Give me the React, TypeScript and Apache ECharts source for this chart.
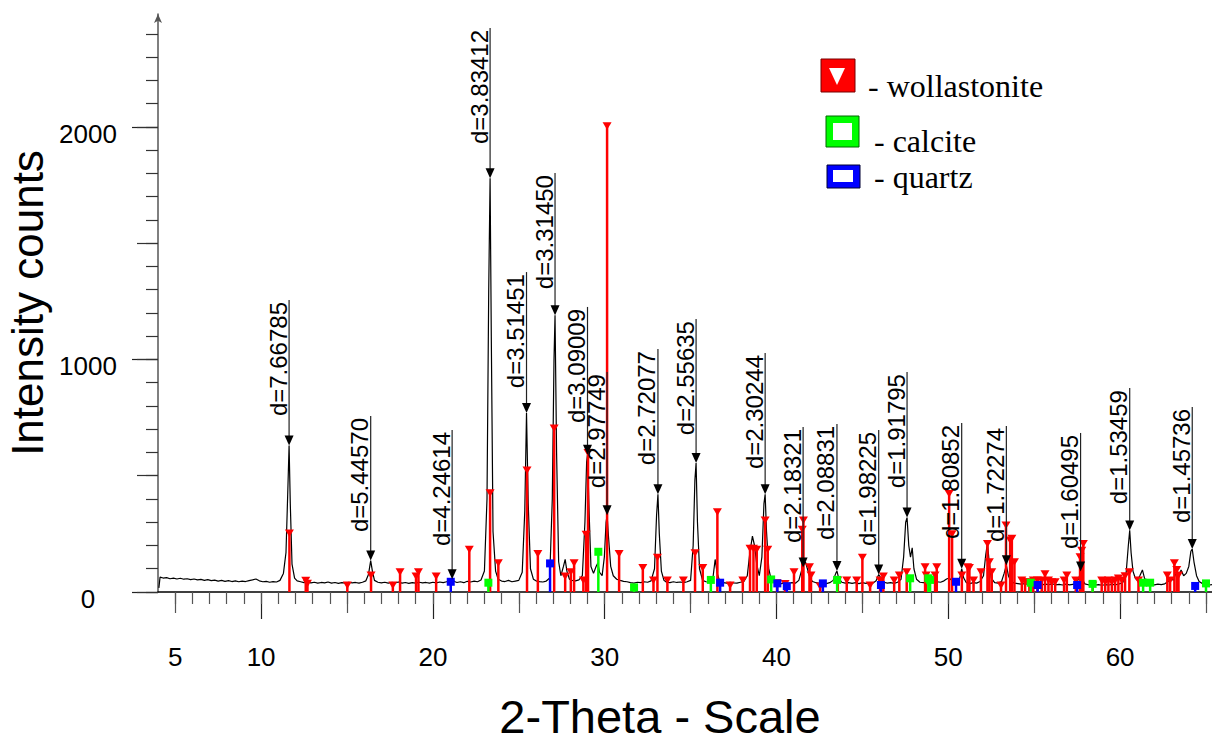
import React, { useEffect, useRef } from "react";
import * as echarts from "echarts";

// 2-Theta vs intensity profile (black trace)
const profile: [number, number][] = [
  [4.05, 18], [4.12, 64], [4.3, 60], [4.5, 62], [4.7, 57], [4.9, 60], [5.1, 56], [5.3, 59], [5.5, 55], [5.7, 57],
  [5.9, 53], [6.1, 56], [6.3, 52], [6.5, 54], [6.7, 50], [6.9, 53], [7.1, 49], [7.3, 51], [7.5, 47], [7.7, 50],
  [7.9, 46], [8.1, 49], [8.3, 45], [8.5, 48], [8.7, 44], [8.9, 47], [9.1, 45], [9.3, 49], [9.5, 52], [9.7, 56],
  [9.9, 48], [10.1, 44], [10.3, 46], [10.5, 42], [10.7, 45], [10.9, 43], [11.1, 50], [11.3, 80], [11.45, 170],
  [11.55, 420], [11.63, 630], [11.7, 380], [11.8, 120], [11.95, 60], [12.1, 48], [12.3, 44], [12.5, 40], [12.7, 43],
  [12.9, 39], [13.1, 42], [13.3, 38], [13.5, 41], [13.7, 39], [13.9, 43], [14.1, 38], [14.3, 41], [14.5, 37],
  [14.7, 40], [14.9, 38], [15.1, 42], [15.3, 39], [15.5, 41], [15.7, 38], [15.9, 42], [16.1, 48], [16.25, 75],
  [16.38, 135], [16.48, 90], [16.6, 50], [16.8, 42], [17.0, 39], [17.2, 42], [17.4, 38], [17.6, 41], [17.8, 39],
  [18.0, 43], [18.2, 38], [18.4, 41], [18.6, 37], [18.8, 40], [19.0, 38], [19.2, 42], [19.4, 39], [19.6, 41],
  [19.8, 38], [20.0, 42], [20.2, 39], [20.4, 43], [20.6, 40], [20.8, 44], [21.0, 48], [21.12, 55], [21.25, 45],
  [21.4, 41], [21.6, 44], [21.8, 40], [22.0, 46], [22.2, 43], [22.4, 47], [22.6, 44], [22.8, 52], [23.0, 90],
  [23.15, 400], [23.25, 1300], [23.33, 1780], [23.4, 1100], [23.5, 260], [23.65, 90], [23.8, 55], [24.0, 47],
  [24.2, 45], [24.4, 50], [24.6, 44], [24.8, 47], [25.0, 50], [25.2, 85], [25.35, 350], [25.45, 770], [25.55, 380],
  [25.68, 100], [25.85, 55], [26.0, 48], [26.2, 45], [26.4, 43], [26.6, 47], [26.8, 60], [26.95, 400], [27.05, 1000],
  [27.11, 1190], [27.2, 600], [27.32, 130], [27.45, 70], [27.6, 110], [27.7, 140], [27.8, 90], [27.95, 55],
  [28.1, 50], [28.3, 48], [28.5, 52], [28.7, 70], [28.85, 300], [28.95, 560], [29.0, 590], [29.1, 330], [29.2, 110],
  [29.35, 80], [29.5, 110], [29.6, 125], [29.7, 85], [29.85, 70], [29.98, 150], [30.08, 300], [30.14, 330],
  [30.22, 240], [30.35, 110], [30.5, 70], [30.7, 55], [30.9, 50], [31.1, 46], [31.3, 44], [31.5, 40], [31.7, 38],
  [31.9, 42], [32.1, 40], [32.3, 44], [32.5, 42], [32.7, 48], [32.9, 100], [33.02, 330], [33.1, 420], [33.18, 250],
  [33.3, 90], [33.45, 50], [33.6, 42], [33.8, 40], [34.0, 44], [34.2, 41], [34.4, 43], [34.6, 40], [34.8, 44],
  [35.0, 50], [35.15, 200], [35.25, 480], [35.32, 555], [35.4, 300], [35.52, 100], [35.7, 50], [35.9, 44],
  [36.1, 42], [36.3, 60], [36.43, 140], [36.55, 80], [36.7, 45], [36.9, 40], [37.1, 38], [37.3, 42], [37.5, 39],
  [37.7, 38], [37.9, 42], [38.1, 45], [38.3, 70], [38.45, 170], [38.6, 240], [38.72, 200], [38.85, 120], [39.0, 70],
  [39.15, 150], [39.27, 380], [39.34, 420], [39.42, 260], [39.55, 100], [39.7, 50], [39.9, 42], [40.1, 38],
  [40.3, 36], [40.5, 40], [40.7, 37], [40.9, 40], [41.1, 38], [41.3, 50], [41.45, 90], [41.55, 110], [41.68, 130],
  [41.8, 100], [41.95, 60], [42.1, 45], [42.3, 40], [42.5, 37], [42.7, 40], [42.9, 36], [43.1, 40], [43.3, 50],
  [43.45, 80], [43.52, 90], [43.62, 60], [43.8, 42], [44.0, 38], [44.2, 40], [44.4, 37], [44.6, 40], [44.8, 36],
  [45.0, 40], [45.2, 37], [45.4, 40], [45.6, 38], [45.8, 48], [45.95, 75], [46.08, 60], [46.25, 42], [46.45, 38],
  [46.65, 40], [46.85, 37], [47.05, 42], [47.25, 55], [47.4, 150], [47.52, 300], [47.6, 320], [47.7, 200],
  [47.8, 150], [47.9, 190], [48.0, 100], [48.15, 55], [48.35, 42], [48.55, 40], [48.75, 38], [48.95, 42],
  [49.15, 40], [49.35, 44], [49.55, 42], [49.75, 48], [49.9, 56], [50.05, 60], [50.2, 50], [50.4, 42], [50.6, 40],
  [50.7, 70], [50.78, 100], [50.9, 60], [51.05, 40], [51.25, 36], [51.45, 40], [51.65, 38], [51.85, 45], [52.05, 70],
  [52.18, 160], [52.28, 210], [52.38, 130], [52.5, 60], [52.7, 40], [52.9, 38], [53.1, 45], [53.25, 80],
  [53.38, 115], [53.5, 70], [53.65, 45], [53.85, 38], [54.05, 36], [54.25, 34], [54.45, 36], [54.65, 33],
  [54.85, 35], [55.05, 32], [55.25, 34], [55.45, 31], [55.65, 34], [55.85, 32], [56.05, 35], [56.25, 31],
  [56.45, 33], [56.65, 30], [56.85, 34], [57.05, 31], [57.25, 33], [57.45, 35], [57.6, 60], [57.7, 88], [57.8, 55],
  [57.95, 35], [58.15, 31], [58.35, 33], [58.55, 30], [58.75, 32], [58.95, 29], [59.15, 32], [59.35, 30],
  [59.55, 33], [59.75, 31], [59.95, 35], [60.15, 40], [60.35, 80], [60.48, 200], [60.56, 265], [60.64, 170],
  [60.75, 90], [60.88, 60], [61.0, 50], [61.15, 70], [61.3, 95], [61.42, 60], [61.6, 38], [61.8, 33], [62.0, 31],
  [62.2, 34], [62.4, 32], [62.6, 35], [62.8, 45], [62.95, 60], [63.1, 50], [63.25, 80], [63.4, 65], [63.55, 95],
  [63.7, 70], [63.85, 80], [64.0, 110], [64.12, 175], [64.2, 185], [64.3, 130], [64.45, 70], [64.6, 45],
  [64.8, 36], [65.0, 33], [65.2, 30], [65.35, 32],
];

// reference sticks [2-Theta, height]
const wollastonite: [number, number][] = [
  [11.65, 254], [12.6, 50], [12.7, 38], [15.02, 30], [16.4, 73], [17.67, 30], [18.09, 87], [19.02, 69], [19.16, 87],
  [20.19, 69], [22.12, 184], [23.33, 427], [23.81, 126], [25.48, 525], [26.11, 166], [27.06, 705], [27.7, 69],
  [28.03, 87], [28.22, 126], [28.76, 52], [28.92, 248], [29.03, 600], [30.14, 2005], [30.84, 166], [32.22, 105],
  [32.84, 52], [33.07, 149], [33.65, 52], [34.58, 52], [35.26, 169], [35.71, 105], [36.56, 345], [37.3, 30],
  [38.04, 52], [38.46, 188], [38.66, 188], [38.85, 184], [39.34, 310], [39.49, 184], [40.03, 40], [40.5, 37],
  [41.02, 87], [41.5, 270], [41.57, 310], [41.92, 109], [42.01, 73], [42.54, 26], [43.57, 52], [44.09, 52],
  [44.67, 52], [45.0, 149], [45.45, 30], [46.03, 52], [46.22, 69], [46.85, 52], [47.15, 73], [47.58, 87],
  [48.65, 109], [48.71, 73], [49.23, 73], [49.33, 109], [50.05, 424], [50.22, 250], [50.79, 73], [51.12, 109],
  [51.23, 105], [51.47, 52], [51.9, 87], [52.28, 209], [52.39, 130], [52.53, 87], [53.07, 30], [53.36, 288],
  [53.6, 224], [53.7, 231], [53.85, 130], [54.28, 52], [54.47, 44], [54.72, 44], [54.95, 52], [55.19, 52],
  [55.44, 52], [55.63, 78], [55.83, 52], [56.02, 44], [56.22, 44], [56.74, 52], [56.9, 73], [57.42, 52],
  [57.67, 152], [57.77, 180], [57.86, 209], [58.41, 30], [58.93, 52], [59.13, 44], [59.32, 52], [59.52, 44],
  [59.71, 52], [59.9, 60], [60.1, 52], [60.29, 70], [60.54, 87], [61.07, 52], [62.75, 73], [62.91, 52],
  [63.16, 126], [63.3, 97], [63.4, 73],
];
const calcite: [number, number][] = [
  [23.23, 40], [29.63, 173], [31.71, 20], [36.18, 52], [39.69, 54], [43.53, 52], [47.78, 59], [48.84, 59],
  [48.94, 52], [54.8, 40], [58.4, 35], [61.34, 40], [61.75, 40], [65.0, 37],
];
const quartz: [number, number][] = [
  [21.04, 44], [26.82, 123], [36.72, 40], [40.05, 37], [40.6, 25], [42.7, 37], [46.08, 30], [50.45, 44],
  [55.2, 30], [57.5, 30], [64.37, 26],
];

// d-spacing annotations
const dLabels = [
  "d=7.66785", "d=5.44570", "d=4.24614", "d=3.83412", "d=3.51451", "d=3.31450", "d=3.09009", "d=2.97749",
  "d=2.72077", "d=2.55635", "d=2.30244", "d=2.18321", "d=2.08831", "d=1.98225", "d=1.91795", "d=1.80852",
  "d=1.72274", "d=1.60495", "d=1.53459", "d=1.45736",
];
const dTheta = [11.63, 16.38, 21.12, 23.33, 25.45, 27.11, 29.0, 30.14, 33.1, 35.32, 39.34, 41.55, 43.52, 45.95, 47.6, 50.78, 53.38, 57.7, 60.56, 64.2];
const dPeak = [630, 135, 55, 1780, 770, 1190, 590, 330, 420, 555, 420, 105, 90, 75, 320, 100, 115, 88, 265, 185];
const dTop = [1256, 757, 697, 2426, 1376, 1802, 1226, 946, 1045, 1174, 1028, 710, 723, 697, 946, 727, 714, 684, 877, 796];

const xLabelValues = [5, 10, 20, 30, 40, 50, 60];
const xMajorTicks = [10, 20, 30, 40, 50, 60];
const xMidTicks = [5, 15, 25, 35, 45, 55, 65];
const xMinorTicks = [5, 6, 7, 8, 9, 10, 11, 12, 13, 14, 15, 16, 17, 18, 19, 20, 21, 22, 23, 24, 25, 26, 27, 28, 29, 30, 31, 32, 33, 34, 35, 36, 37, 38, 39, 40, 41, 42, 43, 44, 45, 46, 47, 48, 49, 50, 51, 52, 53, 54, 55, 56, 57, 58, 59, 60, 61, 62, 63, 64, 65];
const yLabelValues = [0, 1000, 2000];
const yMidTicks = [0, 500, 1000, 1500, 2000];
const yMinorTicks = [0, 100, 200, 300, 400, 500, 600, 700, 800, 900, 1000, 1100, 1200, 1300, 1400, 1500, 1600, 1700, 1800, 1900, 2000, 2100, 2200, 2300, 2400];

const SANS = '"Liberation Sans", Arial, sans-serif';
const SERIF = '"Liberation Serif", "Times New Roman", serif';
const X_MIN = 4;
const X_MAX = 65.35;
const Y_MAX = 2486;

function stickSeries(data: [number, number][], color: string, marker: "tri" | "sq") {
  return {
    type: "custom",
    xAxisIndex: 0,
    yAxisIndex: 0,
    z: 3,
    data,
    renderItem: (_p: any, api: any) => {
      const top = api.coord([api.value(0), api.value(1)]);
      const base = api.coord([api.value(0), 0]);
      const children: any[] = [
        { type: "line", shape: { x1: top[0], y1: top[1], x2: base[0], y2: base[1] }, style: { stroke: color, lineWidth: 2.5 } },
      ];
      if (marker === "tri") {
        children.push({
          type: "polygon",
          shape: { points: [[top[0] - 4.5, top[1] - 3.5], [top[0] + 4.5, top[1] - 3.5], [top[0], top[1] + 4]] },
          style: { fill: color },
        });
      } else {
        children.push({ type: "rect", shape: { x: top[0] - 4, y: top[1] - 4, width: 8, height: 8 }, style: { fill: color } });
      }
      return { type: "group", children };
    },
  };
}

export default function App() {
  const ref = useRef<HTMLDivElement>(null);
  useEffect(() => {
    if (!ref.current) return;
    const chart = echarts.init(ref.current, null, { renderer: "svg" });
    const xBase = {
      type: "value",
      min: X_MIN,
      max: X_MAX,
      position: "bottom",
      offset: 0,
      splitLine: { show: false },
    };
    const yBase = {
      type: "value",
      min: 0,
      max: Y_MAX,
      position: "left",
      offset: 0,
      splitLine: { show: false },
    };
    const annData = dTheta.map((t, i) => [t, dPeak[i], dTop[i], i]);
    const option: any = {
      animation: false,
      backgroundColor: "#ffffff",
      grid: { left: 158, right: 0, top: 14, bottom: 155, containLabel: false },
      xAxis: [
        {
          ...xBase,
          axisLine: { show: true, onZero: false, lineStyle: { color: "#000", width: 1.5 } },
          axisTick: { show: true, customValues: xMajorTicks, length: 27, lineStyle: { color: "#222", width: 1.2 } },
          axisLabel: { show: true, customValues: xLabelValues, fontSize: 26, fontFamily: SANS, color: "#000", margin: 52 },
        },
        {
          ...xBase,
          axisLine: { show: false },
          axisTick: { show: true, customValues: xMidTicks, length: 21, lineStyle: { color: "#555", width: 1.2 } },
          axisLabel: { show: false },
        },
        {
          ...xBase,
          axisLine: { show: false },
          axisTick: { show: true, customValues: xMinorTicks, length: 12, lineStyle: { color: "#555", width: 1.2 } },
          axisLabel: { show: false },
        },
      ],
      yAxis: [
        {
          ...yBase,
          axisLine: { show: true, onZero: false, symbol: ["none", "arrow"], symbolSize: [6, 9], lineStyle: { color: "#555", width: 1.5 } },
          axisTick: { show: true, customValues: yLabelValues, length: 26, lineStyle: { color: "#222", width: 1.2 } },
          axisLabel: {
            show: true,
            customValues: yLabelValues,
            formatter: (v: number) => String(v),
            fontSize: 26,
            fontFamily: SANS,
            color: "#000",
            margin: 70,
            align: "center",
            verticalAlign: "top",
            lineHeight: 14,
          },
        },
        {
          ...yBase,
          axisLine: { show: false },
          axisTick: { show: true, customValues: yMidTicks, length: 21, lineStyle: { color: "#333", width: 1.2 } },
          axisLabel: { show: false },
        },
        {
          ...yBase,
          axisLine: { show: false },
          axisTick: { show: true, customValues: yMinorTicks, length: 12, lineStyle: { color: "#333", width: 1.2 } },
          axisLabel: { show: false },
        },
      ],
      series: [
        {
          type: "line",
          xAxisIndex: 0,
          yAxisIndex: 0,
          data: profile,
          showSymbol: false,
          symbol: "none",
          z: 2,
          lineStyle: { color: "#000", width: 1.2 },
        },
        stickSeries(wollastonite, "#ff0000", "tri"),
        stickSeries(calcite, "#00ff00", "sq"),
        stickSeries(quartz, "#0000ff", "sq"),
        {
          type: "custom",
          xAxisIndex: 0,
          yAxisIndex: 0,
          z: 5,
          data: annData,
          renderItem: (_p: any, api: any) => {
            const p = api.coord([api.value(0), api.value(1)]);
            const t = api.coord([api.value(0), api.value(2)]);
            const idx = api.value(3);
            return {
              type: "group",
              children: [
                { type: "line", shape: { x1: p[0], y1: t[1], x2: p[0], y2: p[1] - 8 }, style: { stroke: "#222", lineWidth: 1.2 } },
                {
                  type: "polygon",
                  shape: { points: [[p[0] - 4.5, p[1] - 10], [p[0] + 4.5, p[1] - 10], [p[0], p[1]]] },
                  style: { fill: "#000" },
                },
                {
                  type: "text",
                  x: p[0] - 11,
                  y: t[1] + 2,
                  rotation: Math.PI / 2,
                  style: { text: dLabels[idx], fontSize: 24, fontFamily: SANS, fill: "#000", align: "right", verticalAlign: "middle" },
                },
              ],
            };
          },
        },
      ],
      graphic: [
        { type: "text", x: 27, y: 303, rotation: Math.PI / 2, style: { text: "Intensity counts", fontSize: 44, fontFamily: SANS, fill: "#000", align: "center", verticalAlign: "middle" } },
        { type: "text", x: 660, y: 716, style: { text: "2-Theta - Scale", fontSize: 47, fontFamily: SANS, fill: "#000", align: "center", verticalAlign: "middle" } },
        { type: "rect", shape: { x: 821, y: 59, width: 34, height: 33 }, style: { fill: "#ff0000", stroke: "#700", lineWidth: 1 } },
        { type: "polygon", shape: { points: [[829, 68], [845, 68], [837, 85]] }, style: { fill: "#fff" } },
        { type: "text", x: 868, y: 86, style: { text: "- wollastonite", fontSize: 32, fontFamily: SERIF, fill: "#000", align: "left", verticalAlign: "middle" } },
        { type: "rect", shape: { x: 826, y: 116, width: 33, height: 31 }, style: { fill: "#00ff00", stroke: "#060", lineWidth: 1 } },
        { type: "rect", shape: { x: 833, y: 123, width: 19, height: 17 }, style: { fill: "#fff" } },
        { type: "text", x: 874, y: 141, style: { text: "- calcite", fontSize: 32, fontFamily: SERIF, fill: "#000", align: "left", verticalAlign: "middle" } },
        { type: "rect", shape: { x: 827, y: 165, width: 33, height: 23 }, style: { fill: "#0000ff", stroke: "#003", lineWidth: 1 } },
        { type: "rect", shape: { x: 833, y: 170, width: 20, height: 12 }, style: { fill: "#fff" } },
        { type: "text", x: 874, y: 177, style: { text: "- quartz", fontSize: 32, fontFamily: SERIF, fill: "#000", align: "left", verticalAlign: "middle" } },
      ],
    };
    chart.setOption(option);
    return () => chart.dispose();
  }, []);
  return (
    <div
      ref={ref}
      style={{ position: "absolute", left: 0, top: 0, width: 1212, height: 747, background: "#fff" }}
    />
  );
}
